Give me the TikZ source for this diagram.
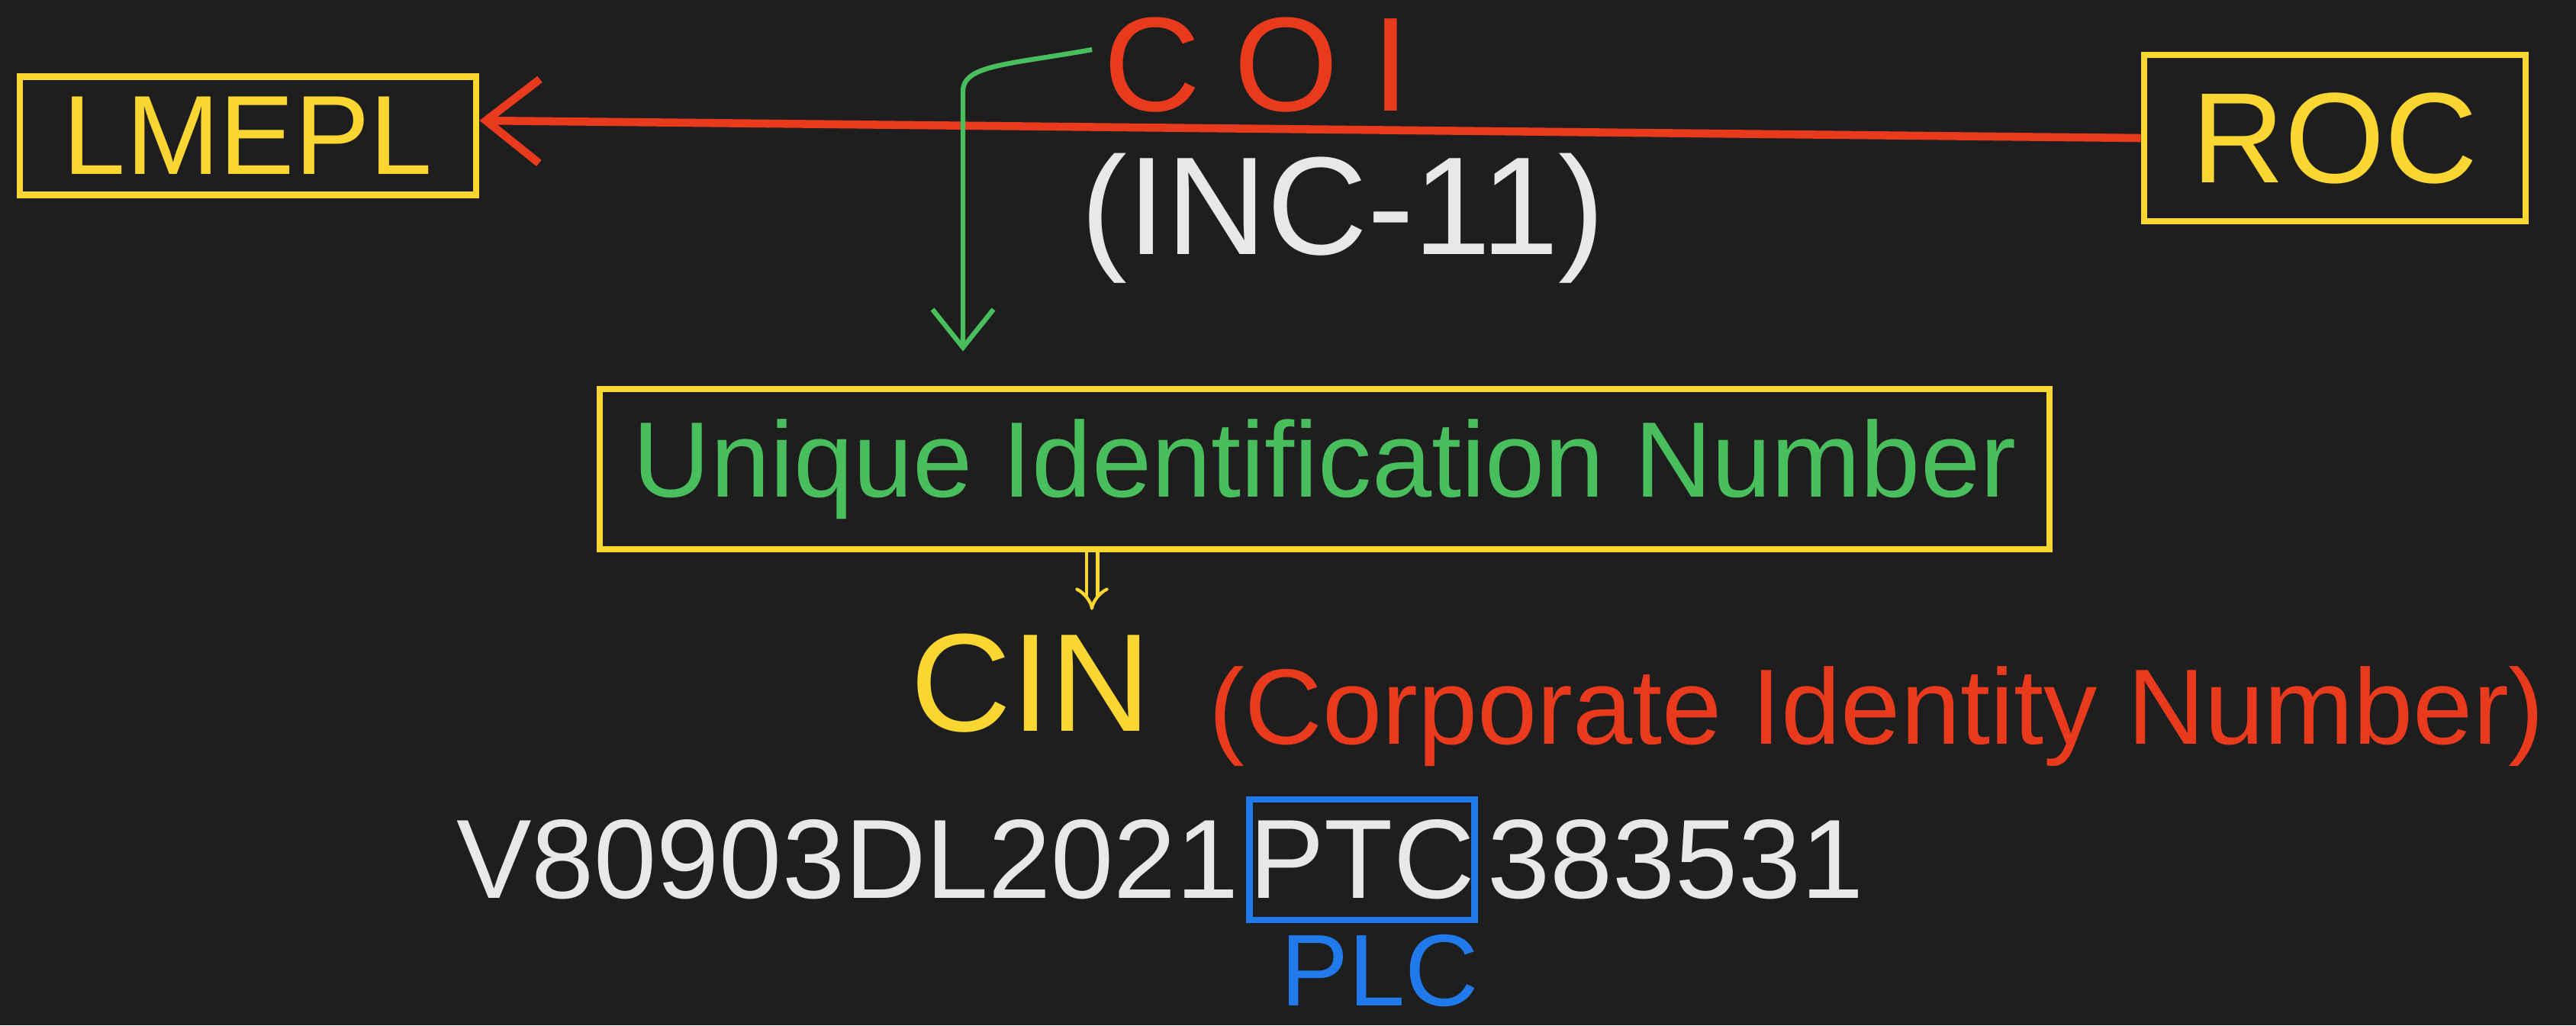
\documentclass[tikz,border=0pt]{standalone}
\usepackage{fontspec}
\setmainfont{Liberation Sans}
\usepackage{xcolor}
\usepackage{tikz}
\usetikzlibrary{arrows.meta}
\definecolor{boardbg}{RGB}{30,30,30}
\definecolor{inkyellow}{RGB}{250,214,50}
\definecolor{inkred}{RGB}{233,58,30}
\definecolor{inkgreen}{RGB}{72,190,92}
\definecolor{inkblue}{RGB}{32,122,236}
\definecolor{inkwhite}{RGB}{232,232,232}

\begin{document}
\begin{tikzpicture}[
  box/.style={draw=inkyellow, line width=2.5pt, inner sep=0pt},
  ink/.style={inner sep=0pt, font=\fontsize{#1}{#1}\selectfont},
  redarrow/.style={draw=inkred, line width=3pt, -{Straight Barb[length=7mm, width=11mm]}},
  grnarrow/.style={draw=inkgreen, line width=1.8pt, -{Straight Barb[length=5mm, width=8mm]}, shorten >=4.5mm},
  dblarrow/.style={draw=inkyellow, line width=1.2pt, double=boardbg, double distance=3pt, -{Implies}, shorten >=3mm}
]
% Board
\fill[boardbg] (0,0) rectangle (33.76,-13.44);
\useasboundingbox (0,0) rectangle (33.76,-13.44);

% Nodes
\node[box, minimum width=5.98cm, minimum height=1.55cm, text=inkyellow, ink=42] (lmepl) at (3.25,-1.78) {LMEPL};
\node[box, minimum width=5.0cm, minimum height=2.18cm, text=inkyellow, ink=48] (roc) at (30.6,-1.81) {ROC};
\node[ink=50, text=inkred] (coi) at (16.47,-0.85) {\addfontfeature{LetterSpace=25}COI};
\node[ink=52, text=inkwhite] (inc) at (17.6,-2.86) {(INC-11)};
\node[box, minimum width=19.0cm, minimum height=2.1cm, text=inkgreen, ink=40] (uin) at (17.36,-6.15) {Unique Identification Number};
\node[ink=52, text=inkyellow, anchor=base] (cin) at (13.51,-9.58) {CIN};
\node[ink=40, text=inkred, anchor=base] (cinfull) at (24.6,-9.75) {(Corporate Identity Number)};
\node[draw=inkblue, line width=2.5pt, minimum width=2.91cm, minimum height=1.58cm, inner sep=0pt, text=inkwhite, font=\fontsize{42}{42}\selectfont] (ptc) at (17.85,-11.27) {PTC};
\node[ink=42, text=inkwhite, anchor=east] (seriala) at ([xshift=-0.08cm]ptc.west) {V80903DL2021};
\node[ink=42, text=inkwhite, anchor=west] (serialb) at ([xshift=0.12cm]ptc.east) {383531};
\node[ink=38, text=inkblue] (plc) at (18.08,-12.72) {PLC};
\coordinate (bend) at (12.62,-1.2);

% Edges
\draw[redarrow] (roc.west) -- ([yshift=0.2cm]lmepl.east);
\draw[grnarrow] ([shift={(-0.15,0.2)}]coi.west) .. controls (13.2,-0.85) and (12.62,-0.85) .. (bend) -- (bend |- uin.north);
\draw[dblarrow] ([xshift=0.8cm]cin.north |- uin.south) -- ([xshift=0.8cm]cin.north);
\end{tikzpicture}
\end{document}
